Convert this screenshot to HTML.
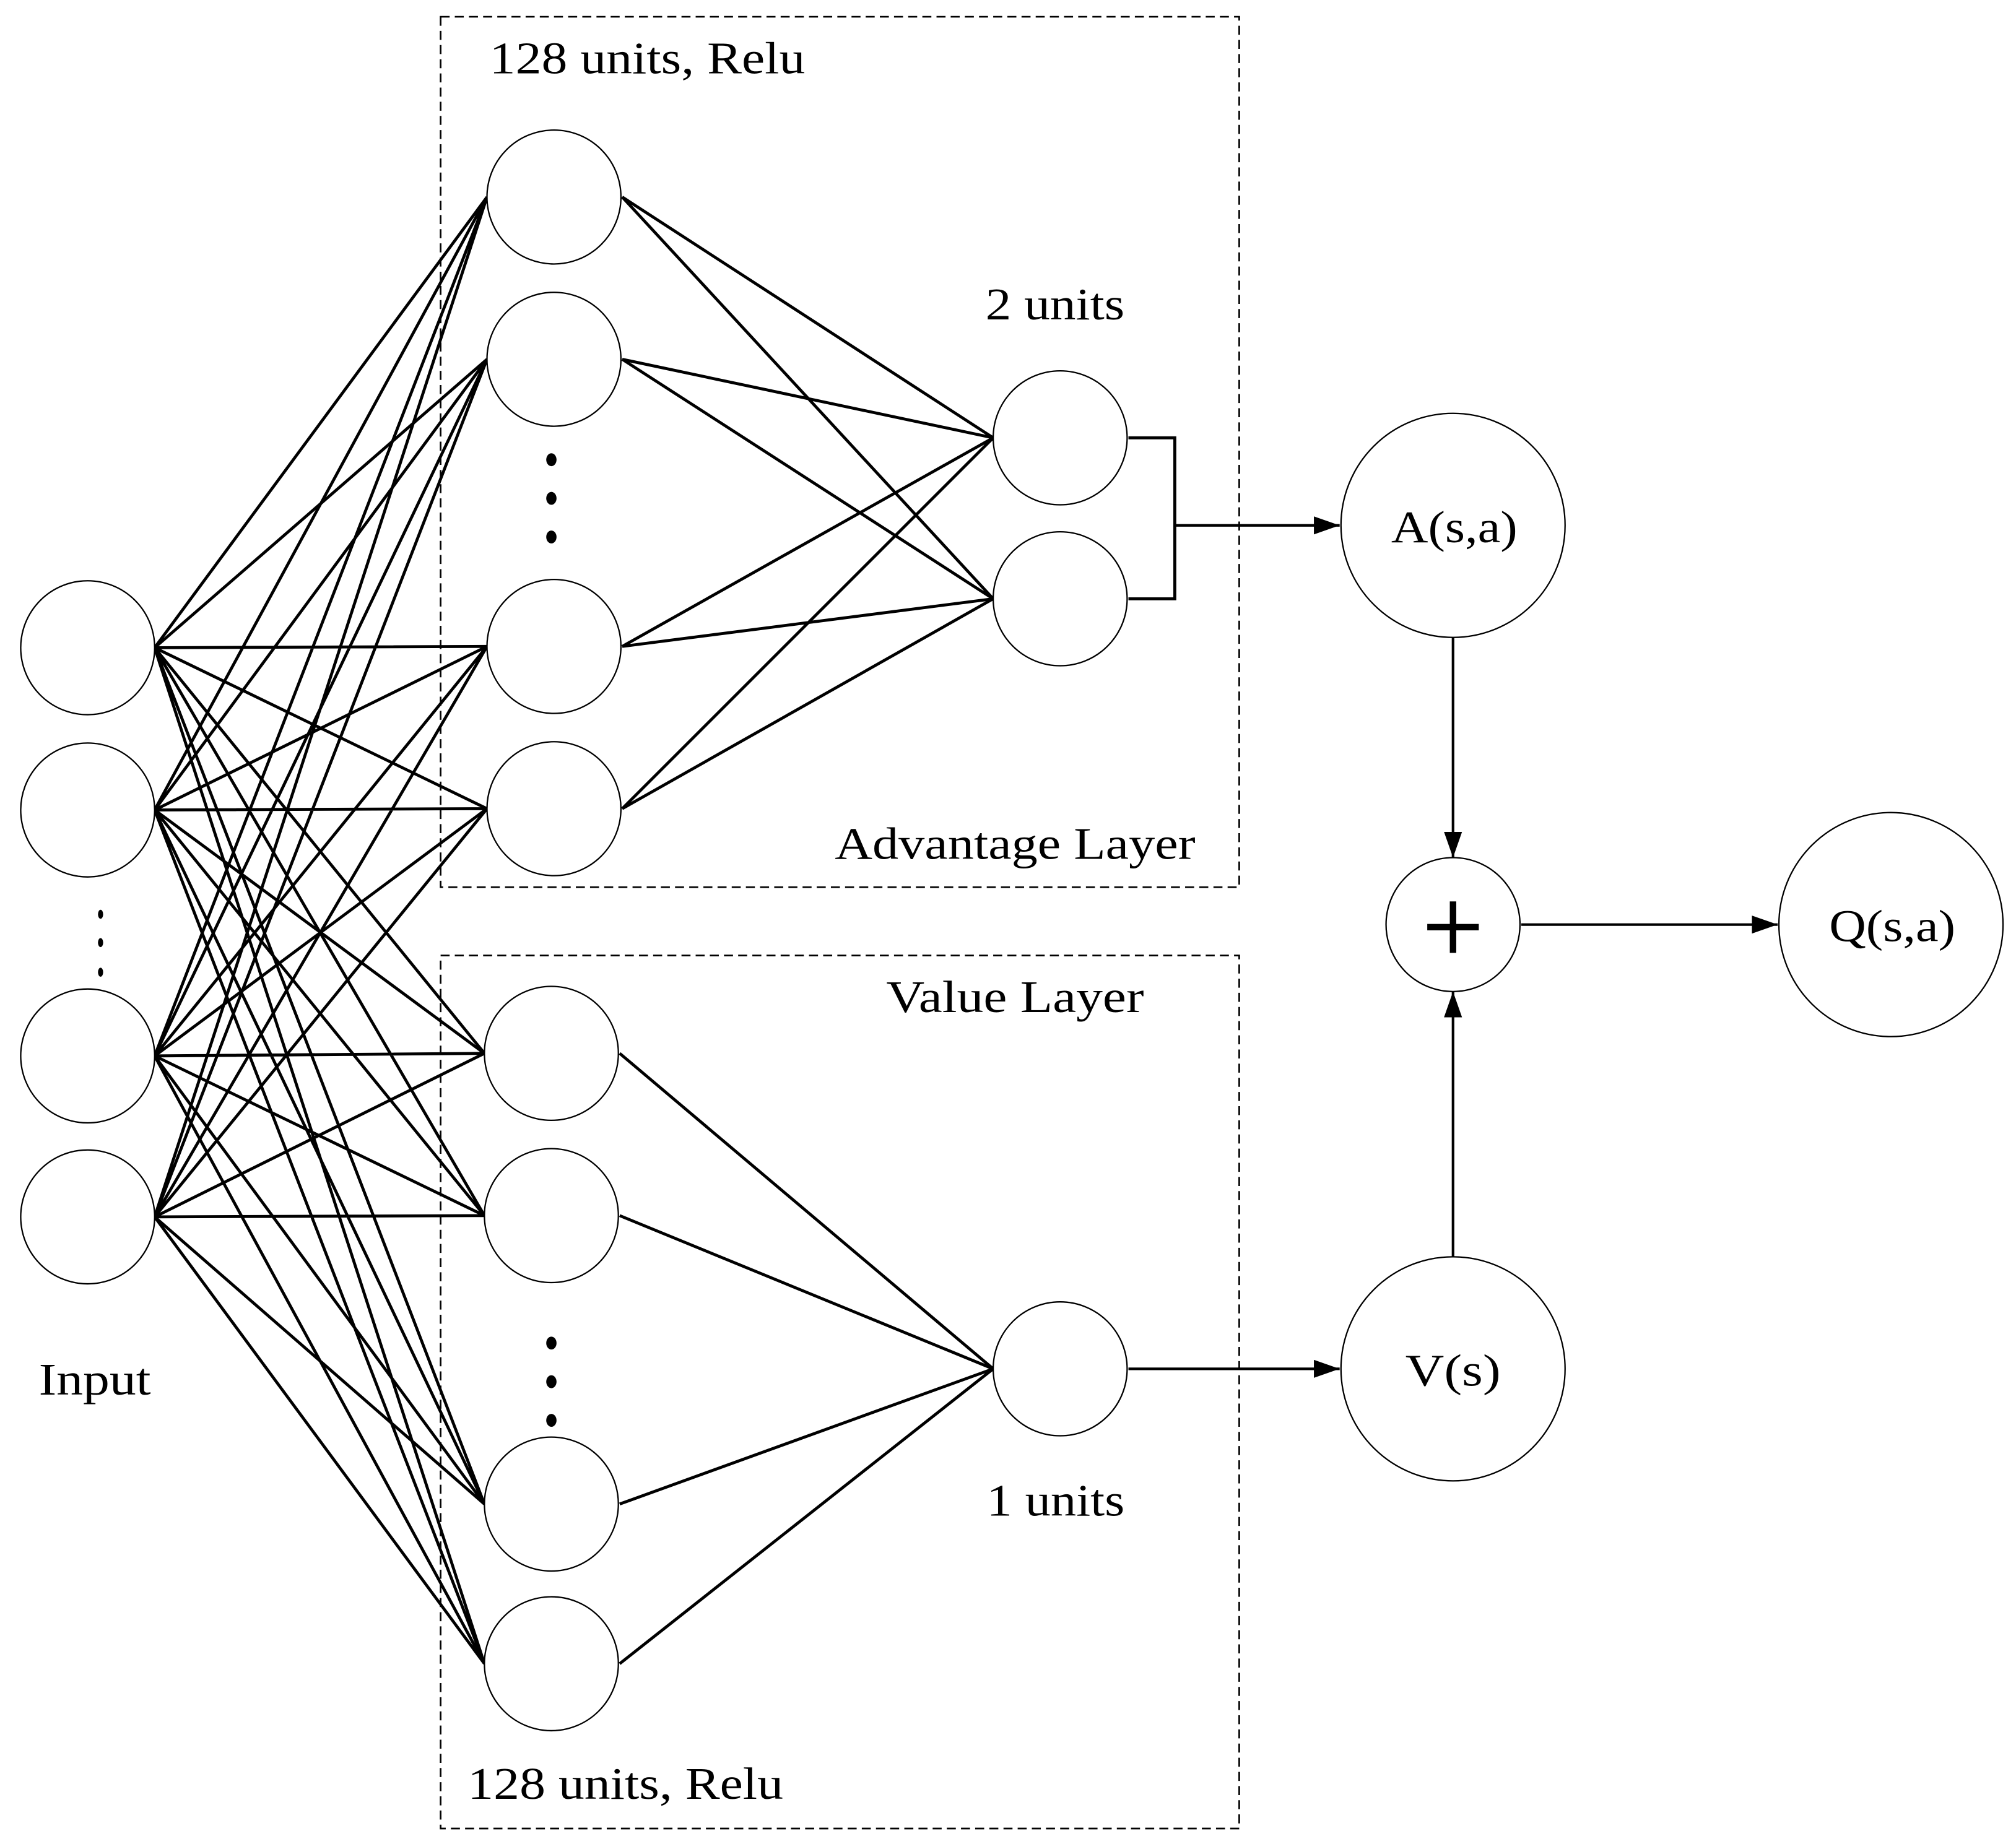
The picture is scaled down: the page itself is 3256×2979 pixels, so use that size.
<!DOCTYPE html>
<html><head><meta charset="utf-8"><style>html,body{margin:0;padding:0;background:#fff}svg{display:block}</style></head>
<body>
<svg width="3256" height="2979" viewBox="0 0 1565 1432" xmlns="http://www.w3.org/2000/svg" font-family="Liberation Serif, serif">
<defs><marker id="ah" markerWidth="20" markerHeight="14" refX="20" refY="7" orient="auto" markerUnits="userSpaceOnUse"><path d="M0,0 L20,7 L0,14 z"/></marker></defs>
<g fill="none" stroke="#000" stroke-width="1.3" stroke-dasharray="7,4">
<rect x="342" y="13" width="620" height="676"/>
<rect x="342" y="742" width="620" height="678"/>
</g>
<g stroke="#000" stroke-width="2.3" fill="none">
<path d="
M120,503 L378,153 M120,503 L378,279 M120,503 L378,502 M120,503 L378,628 M120,503 L376,818 M120,503 L376,944 M120,503 L376,1168 M120,503 L376,1292
M120,629 L378,153 M120,629 L378,279 M120,629 L378,502 M120,629 L378,628 M120,629 L376,818 M120,629 L376,944 M120,629 L376,1168 M120,629 L376,1292
M120,820 L378,153 M120,820 L378,279 M120,820 L378,502 M120,820 L378,628 M120,820 L376,818 M120,820 L376,944 M120,820 L376,1168 M120,820 L376,1292
M120,945 L378,153 M120,945 L378,279 M120,945 L378,502 M120,945 L378,628 M120,945 L376,818 M120,945 L376,944 M120,945 L376,1168 M120,945 L376,1292
M483,153 L771,340 M483,153 L771,465 M483,279 L771,340 M483,279 L771,465 M483,502 L771,340 M483,502 L771,465 M483,628 L771,340 M483,628 L771,465
M481,818 L771,1063 M481,944 L771,1063 M481,1168 L771,1063 M481,1292 L771,1063
M876,340 L912,340 L912,465 L876,465
"/>
</g>
<g stroke="#000" stroke-width="2" fill="none">
<line x1="912" y1="408" x2="1040" y2="408" marker-end="url(#ah)"/>
<line x1="876" y1="1063" x2="1040" y2="1063" marker-end="url(#ah)"/>
<line x1="1128" y1="495" x2="1128" y2="666" marker-end="url(#ah)"/>
<line x1="1128" y1="976" x2="1128" y2="770" marker-end="url(#ah)"/>
<line x1="1181" y1="718" x2="1380" y2="718" marker-end="url(#ah)"/>
</g>
<g fill="#fff" stroke="#000" stroke-width="1.1">
<circle cx="68" cy="503" r="52"/><circle cx="68" cy="629" r="52"/><circle cx="68" cy="820" r="52"/><circle cx="68" cy="945" r="52"/>
<circle cx="430" cy="153" r="52"/><circle cx="430" cy="279" r="52"/><circle cx="430" cy="502" r="52"/><circle cx="430" cy="628" r="52"/>
<circle cx="428" cy="818" r="52"/><circle cx="428" cy="944" r="52"/><circle cx="428" cy="1168" r="52"/><circle cx="428" cy="1292" r="52"/>
<circle cx="823" cy="340" r="52"/><circle cx="823" cy="465" r="52"/><circle cx="823" cy="1063" r="52"/>
<circle cx="1128" cy="408" r="87"/><circle cx="1128" cy="1063" r="87"/><circle cx="1128" cy="718" r="52"/><circle cx="1468" cy="718" r="87"/>
</g>
<g fill="#000">
<ellipse cx="78" cy="710" rx="2" ry="3.5"/><ellipse cx="78" cy="732" rx="2" ry="3.5"/><ellipse cx="78" cy="755" rx="2" ry="3.5"/>
<ellipse cx="428" cy="357" rx="4" ry="5"/><ellipse cx="428" cy="387" rx="4" ry="5"/><ellipse cx="428" cy="417" rx="4" ry="5"/>
<ellipse cx="428" cy="1043" rx="4" ry="5"/><ellipse cx="428" cy="1073" rx="4" ry="5"/><ellipse cx="428" cy="1103" rx="4" ry="5"/>
</g>
<g stroke="#000" stroke-width="5"><line x1="1108" y1="720" x2="1148" y2="720"/><line x1="1128" y1="700" x2="1128" y2="740"/></g>
<g font-size="35" fill="#000" lengthAdjust="spacingAndGlyphs">
<text x="380" y="57" textLength="245" lengthAdjust="spacingAndGlyphs">128 units, Relu</text>
<text x="765" y="248" textLength="108" lengthAdjust="spacingAndGlyphs">2 units</text>
<text x="648" y="667" textLength="280" lengthAdjust="spacingAndGlyphs">Advantage Layer</text>
<text x="688" y="786" textLength="200" lengthAdjust="spacingAndGlyphs">Value Layer</text>
<text x="766" y="1177" textLength="107" lengthAdjust="spacingAndGlyphs">1 units</text>
<text x="363" y="1397" textLength="245" lengthAdjust="spacingAndGlyphs">128 units, Relu</text>
<text x="30" y="1083" textLength="87" lengthAdjust="spacingAndGlyphs">Input</text>
<text x="1080" y="421" textLength="98" lengthAdjust="spacingAndGlyphs">A(s,a)</text>
<text x="1091" y="1076" textLength="74" lengthAdjust="spacingAndGlyphs">V(s)</text>
<text x="1420" y="731" textLength="98" lengthAdjust="spacingAndGlyphs">Q(s,a)</text>
</g>
</svg>
</body></html>
